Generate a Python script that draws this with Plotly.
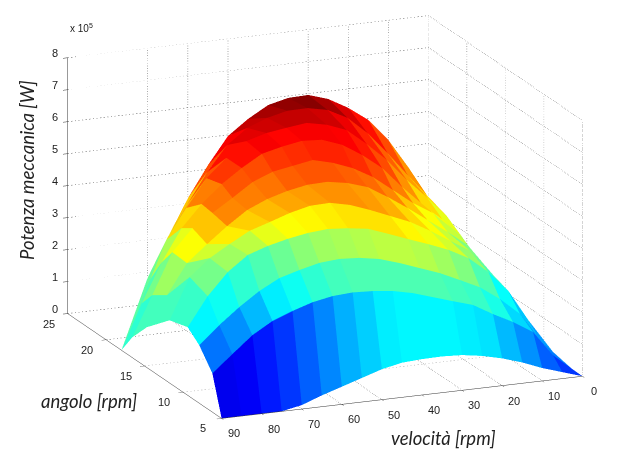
import plotly.graph_objects as go

velocita = [0, 5, 10, 15, 20, 25, 30, 35, 40, 45, 50, 55, 60, 65, 70, 75, 80, 85, 90]
angolo = [5, 6.2, 7.9, 9.4, 11.75, 14.7, 16.6, 18, 20, 22.5, 25]
potenza_e5 = [
    [0, .2, .4, .65, .85, 1.0, 1.1, 1.13, 1.12, 1.08, .95, .75, .55, .35, .12, 0, 0, 0, 0],
    [0, .53, 1.33, 1.72, 2.04, 2.4, 2.59, 2.79, 2.99, 3.13, 3.2, 3.23, 3.19, 3.07, 2.87, 2.63, 2.26, 1.74, 1.21],
    [0, .72, 1.62, 2.16, 2.6, 2.9, 3.19, 3.42, 3.65, 3.85, 3.96, 4.0, 3.95, 3.8, 3.62, 3.29, 2.86, 2.37, 1.81],
    [0, 1.1, 2.09, 2.76, 3.27, 3.6, 3.85, 4.08, 4.32, 4.55, 4.64, 4.69, 4.64, 4.53, 4.38, 4.17, 3.71, 3.03, 2.13],
    [0, 1.5, 2.3, 3.03, 3.42, 3.81, 4.16, 4.42, 4.68, 4.91, 5.05, 5.03, 4.88, 4.67, 4.47, 4.13, 3.76, 3.24, 1.96],
    [0, 1.77, 2.66, 3.14, 3.59, 4.04, 4.46, 4.84, 5.04, 5.15, 5.13, 5.01, 4.83, 4.56, 4.13, 3.64, 3.12, 2.19, 1.26],
    [0, 2.05, 2.85, 3.42, 3.81, 4.29, 4.77, 5.12, 5.36, 5.52, 5.41, 5.3, 5.05, 4.63, 4.23, 3.83, 3.15, 1.88, .63],
    [0, 2.29, 2.93, 3.44, 4.08, 4.75, 5.23, 5.62, 5.85, 5.89, 5.78, 5.63, 5.26, 4.83, 4.28, 3.6, 2.6, 1.39, 0],
    [0, 2.62, 3.29, 3.9, 4.6, 5.17, 5.68, 5.92, 6.05, 5.97, 5.88, 5.7, 5.25, 4.69, 3.83, 2.9, 1.56, None, None],
    [0, 2.83, 3.57, 4.33, 5.03, 5.58, 5.9, 6.03, 6.02, 5.87, 5.63, 5.17, 4.39, 3.46, 2.47, 1.23, None, None, None],
    [0, 3.33, 4.26, 4.96, 5.41, 5.76, 5.96, 5.94, 5.79, 5.43, 4.97, 4.13, 3.17, 2.02, .84, None, None, None, None],
]
# Where the upper rows close at zero power
fine_velocita, fine_angolo = 90, 18

# Colour of each facet (position on the jet map), read per band
tono = [
    [.18, .22, .27, .31, .35, .36, .37, .37, .37, .36, .33, .30, .26, .22, .18, .15, .12, .11],
    [.25, .28, .34, .40, .43, .44, .45, .45, .45, .45, .45, .44, .42, .39, .36, .31, .27, .24],
    [.28, .32, .38, .45, .50, .53, .55, .56, .56, .55, .54, .53, .51, .48, .45, .42, .39, .37],
    [.32, .37, .44, .52, .58, .61, .63, .65, .65, .65, .64, .63, .62, .60, .56, .53, .49, .43],
    [.38, .43, .50, .57, .62, .66, .70, .72, .73, .73, .72, .71, .69, .67, .64, .58, .50, .44],
    [.45, .50, .57, .62, .68, .74, .77, .78, .79, .79, .78, .76, .75, .74, .68, .62, .53, .44],
    [.50, .56, .62, .68, .75, .80, .83, .84, .84, .83, .82, .80, .79, .76, .68, .60, .49, .42],
    [.55, .60, .66, .73, .80, .85, .875, .88, .88, .87, .88, .86, .82, .75, .66, .54, .45, .40],
    [.60, .66, .72, .78, .84, .89, .92, .93, .93, .92, .90, .86, .79, .70, .57, .47, .42, .42],
    [.66, .73, .80, .86, .91, .96, .99, .98, .96, .93, .88, .80, .68, .56, .46, .42, .42, .42],
]

tick_velocita = [0, 10, 20, 30, 40, 50, 60, 70, 80, 90]
tick_angolo = [5, 10, 15, 20, 25]
tick_potenza = [0, 1, 2, 3, 4, 5, 6, 7, 8]
griglia_velocita = [10, 20, 30, 50, 60, 70]

jet = [[0, "rgb(0,0,128)"], [.125, "rgb(0,0,255)"], [.375, "rgb(0,255,255)"],
       [.625, "rgb(255,255,0)"], [.875, "rgb(255,0,0)"], [1, "rgb(128,0,0)"]]

nr, nc = len(angolo), len(velocita)
xs, ys, zs = [], [], []
for r in range(nr):
    for c in range(nc):
        val = potenza_e5[r][c]
        if val is None:
            xs.append(fine_velocita); ys.append(fine_angolo); zs.append(0)
        else:
            xs.append(velocita[c]); ys.append(angolo[r]); zs.append(val)

ii, jj, kk, inten = [], [], [], []
for r in range(nr - 1):
    for c in range(nc - 1):
        a = r * nc + c; b = a + 1; d = a + nc; e = d + 1
        ii += [a, a]; jj += [b, e]; kk += [e, d]
        inten += [tono[r][c], tono[r][c]]

fig = go.Figure()

def dotted(x, y, z, color):
    fig.add_trace(go.Scatter3d(x=x, y=y, z=z, mode="lines", showlegend=False, hoverinfo="skip",
                               line=dict(color=color, width=1, dash="dot")))

vmin, vmax = tick_velocita[0], tick_velocita[-1]
amin, amax = tick_angolo[0], tick_angolo[-1]
zmin, zmax = tick_potenza[0], tick_potenza[-1]
dark, light = "#555555", "#aaaaaa"
for z in tick_potenza:
    dotted([vmax, vmin, vmin], [amax, amax, amin], [z, z, z], dark)
for v in griglia_velocita:
    dotted([v, v, v], [amin, amax, amax], [zmin, zmin, zmax], dark)
dotted([vmin, vmin], [amax, amax], [zmin, zmax], light)
dotted([vmin, vmin], [amin, amin], [zmin, zmax], dark)
for a in tick_angolo[1:-1]:
    dotted([vmax, vmin, vmin], [a, a, a], [zmin, zmin, zmax], dark if a == 20 else light)

fig.add_trace(go.Mesh3d(x=xs, y=ys, z=zs, i=ii, j=jj, k=kk, intensity=inten, intensitymode="cell",
                        colorscale=jet, cmin=0, cmax=1, showscale=False, flatshading=True, hoverinfo="skip",
                        lighting=dict(ambient=1, diffuse=0, specular=0, roughness=1, fresnel=0)))

tf = dict(family="Liberation Sans", size=11, color="#222222")
ax = dict(showbackground=False, showgrid=False, zeroline=False, showspikes=False, showline=True,
          linecolor="#333333", linewidth=1, ticks="outside", ticklen=5, tickcolor="#333333",
          showticklabels=True, tickfont=dict(size=1, color="rgba(0,0,0,0)"), title=dict(text=""))

def etichetta(x, y, z, testo, dx, dy):
    return dict(x=x, y=y, z=z, text=str(testo), showarrow=False, xshift=dx, yshift=dy, font=tf,
                xanchor="center", yanchor="middle")

etichette = ([etichetta(v, amin, zmin, v, 12, -15) for v in tick_velocita]
             + [etichetta(vmax, a, zmin, a, -19, -10) for a in tick_angolo]
             + [etichetta(vmax, amax, z, z, -13, 5) for z in tick_potenza])

scala = 1.8
fig.update_layout(
    width=623, height=469, margin=dict(l=0, r=0, t=0, b=0), paper_bgcolor="white", showlegend=False,
    scene=dict(
        domain=dict(x=[.0433, 1], y=[.0746, 1]),
        aspectmode="manual", aspectratio=dict(x=scala, y=1.03 * scala, z=.6826 * scala),
        camera=dict(eye=dict(x=.367 * 2, y=.886 * 2, z=.282 * 2), up=dict(x=0, y=0, z=1),
                    center=dict(x=0, y=0, z=0), projection=dict(type="orthographic")),
        xaxis=dict(ax, range=[vmin, vmax], tickvals=tick_velocita),
        yaxis=dict(ax, range=[amax, amin], tickvals=tick_angolo),
        zaxis=dict(ax, range=[zmin, zmax], tickvals=tick_potenza),
        annotations=etichette,
    ),
    annotations=[
        dict(text="velocità [rpm]", x=443, y=438),
        dict(text="angolo [rpm]", x=89, y=401),
        dict(text="Potenza meccanica [W]", x=27, y=170, textangle=-90),
    ],
)
for an in fig.layout.annotations:
    an.update(xref="paper", yref="paper", x=an.x / 623, y=1 - an.y / 469, showarrow=False,
              xanchor="center", yanchor="middle", font=dict(family="Lato", size=18.5, color="#222222"),
              text="<i>" + an.text + "</i>")
fig.add_annotation(text="x 10<sup>5</sup>", xref="paper", yref="paper", x=68 / 623, y=1 - 28 / 469,
                   xanchor="left", yanchor="middle", showarrow=False,
                   font=dict(family="Liberation Sans", size=10, color="#222222"))
fig.write_html("out.html", config=dict(displayModeBar=False),
               post_script="document.body.style.margin='0';")
